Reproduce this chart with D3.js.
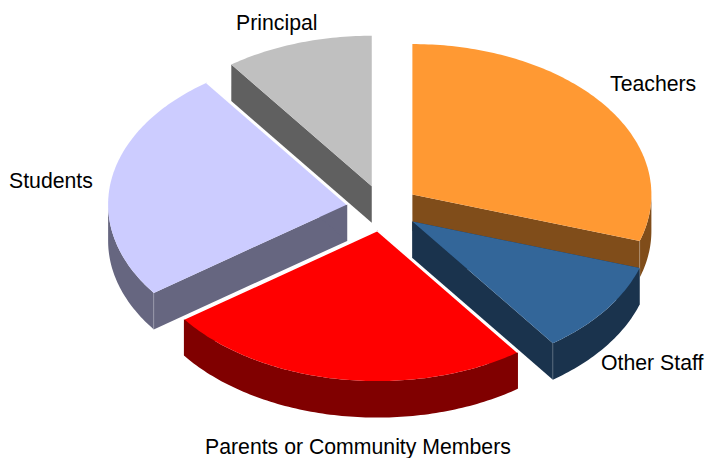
<!DOCTYPE html>
<html>
<head>
<meta charset="utf-8">
<script src="https://cdnjs.cloudflare.com/ajax/libs/d3/7.8.5/d3.min.js"></script>
<style>
html, body { margin: 0; padding: 0; background: #fff; }
svg { display: block; }
text { font-family: "Liberation Sans", Arial, sans-serif; font-size: 21.25px; fill: #000; }
</style>
</head>
<body>
<svg id="chart" width="705" height="458"></svg>
<script>
const categories = ["Teachers", "Other Staff", "Parents or Community Members", "Students", "Principal"];
const shares = [30, 10, 25, 25, 10];
const topColors = ["#ff9933", "#336699", "#ff0000", "#ccccff", "#c0c0c0"];
const wallColors = ["#804d1a", "#1a334d", "#800000", "#666680", "#606060"];

const svg = d3.select("#chart");

// the tilted pie is a unit circle squashed by two linear scales
const xScale = d3.scaleLinear().domain([-1, 1]).range([144, 622]);
const yScale = d3.scaleLinear().domain([-1, 1]).range([358.5, 57.5]);
const depth = 36.5;
const explode = 0.152;

const labelPos = {
    "Teachers": [610, 91],
    "Other Staff": [601, 370],
    "Parents or Community Members": [205, 454],
    "Students": [9, 188],
    "Principal": [236, 30]
};

const slices = d3.pie().sort(null).value(d => d)(shares).map((d, i) => {
    const mid = (d.startAngle + d.endAngle) / 2;
    return {
        i,
        a0: d.startAngle,
        a1: d.endAngle,
        ox: explode * Math.sin(mid),
        oy: explode * Math.cos(mid)
    };
});

function pt(s, a, r = 1, dy = 0) {
    return [
        xScale(s.ox + r * Math.sin(a)),
        yScale(s.oy + r * Math.cos(a)) + dy
    ];
}

function arcPoints(s, a0, a1, dy = 0) {
    const n = Math.max(2, Math.ceil((a1 - a0) * 60));
    return d3.range(n + 1).map(k => pt(s, a0 + (a1 - a0) * k / n, 1, dy));
}

const line = d3.line();
const closed = pts => line(pts) + "Z";

function cutFace(g, s, a, color) {
    g.append("path")
        .attr("d", closed([pt(s, a, 0), pt(s, a), pt(s, a, 1, depth), pt(s, a, 0, depth)]))
        .attr("fill", color);
}

// back to front, the later slices sit over the walls of the earlier ones
const order = [4, 3, 0, 1, 2];
const outlined = [2, 3];

order.forEach(idx => {
    const s = slices[idx];
    const g = svg.append("g").attr("class", "slice");
    const wall = wallColors[idx];

    cutFace(g, s, s.a0, wall);
    cutFace(g, s, s.a1, wall);

    // outer wall, front half only
    const w0 = Math.max(s.a0, Math.PI / 2);
    const w1 = Math.min(s.a1, Math.PI * 1.5);
    if (w1 > w0) {
        g.append("path")
            .attr("d", closed(arcPoints(s, w0, w1).concat(arcPoints(s, w0, w1, depth).reverse())))
            .attr("fill", wall);
    }

    g.append("path")
        .attr("d", closed([pt(s, 0, 0)].concat(arcPoints(s, s.a0, s.a1))))
        .attr("fill", topColors[idx]);

    // faint corner line where a cut face meets the outer wall
    [s.a0, s.a1].forEach(a => {
        if (a > Math.PI / 2 && a < Math.PI * 1.5 && idx !== 2) {
            g.append("path")
                .attr("d", line([pt(s, a), pt(s, a, 1, depth)]))
                .attr("stroke", "#fff")
                .attr("stroke-opacity", 0.2)
                .attr("fill", "none");
        }
    });

    // white edge on the cuts that face away from the viewer
    if (outlined.includes(idx)) {
        [s.a0, s.a1].forEach((a, k) => {
            const back = k === 0 ? a <= Math.PI : a > Math.PI;
            if (back) {
                g.append("path")
                    .attr("d", line([pt(s, a, 0), pt(s, a)]))
                    .attr("stroke", "#fff")
                    .attr("stroke-width", 1.6)
                    .attr("fill", "none");
            }
        });
    }
});

svg.selectAll("text.label")
    .data(categories)
    .join("text")
    .attr("class", "label")
    .attr("x", d => labelPos[d][0])
    .attr("y", d => labelPos[d][1])
    .text(d => d);
</script>
</body>
</html>
